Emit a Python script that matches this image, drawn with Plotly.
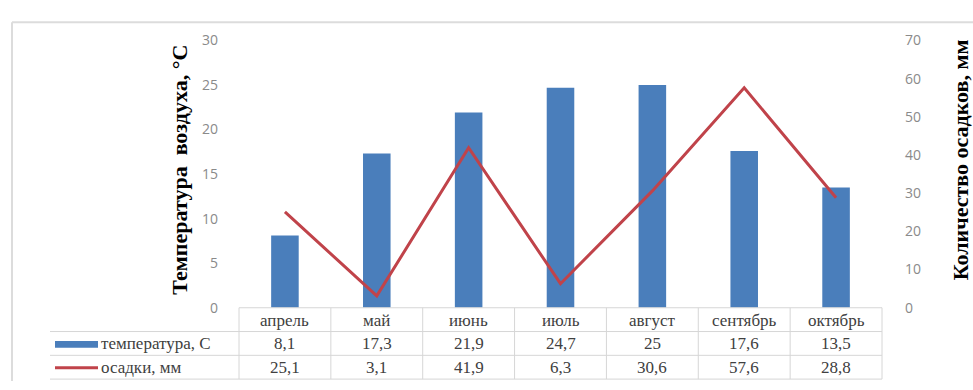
import plotly.graph_objects as go

# Monthly climate data
months = ["апрель", "май", "июнь", "июль", "август", "сентябрь", "октябрь"]
temperature = [8.1, 17.3, 21.9, 24.7, 25, 17.6, 13.5]
precipitation = [25.1, 3.1, 41.9, 6.3, 30.6, 57.6, 28.8]
temp_ticks = [0, 5, 10, 15, 20, 25, 30]
prec_ticks = [0, 10, 20, 30, 40, 50, 60, 70]

W, H = 973, 390
BAR_COLOR = "#4a7ebb"
LINE_COLOR = "#c0434a"
GRID = "#d6d6d6"
SERIF = "Liberation Serif"
SANS = "Open Sans"


def px(x):
    return x / W


def py(y):
    return 1 - y / H


x_left, x_right = 239, 882
y_top, y_bottom = 32, 313

fig = go.Figure()
fig.add_trace(go.Bar(x=months, y=temperature, marker_color=BAR_COLOR,
                     marker_line_width=0, name="температура, С", yaxis="y"))
fig.add_trace(go.Scatter(x=months, y=precipitation, mode="lines",
                         line=dict(color=LINE_COLOR, width=3),
                         name="осадки, мм", yaxis="y2"))

shapes = []
annotations = []

# outer frame
shapes.append(dict(type="line", xref="paper", yref="paper", x0=px(12), x1=1,
                   y0=py(13), y1=py(13), line=dict(color="#dcdcdc", width=2)))
shapes.append(dict(type="line", xref="paper", yref="paper", x0=px(12), x1=px(12),
                   y0=py(13), y1=0, line=dict(color="#dcdcdc", width=2)))

# data table grid
col_w = (x_right - x_left) / len(months)
row_lines = [(y_bottom, x_left), (338, 50), (363, 50), (388, 50)]
for y, x0 in row_lines:
    shapes.append(dict(type="line", xref="paper", yref="paper", x0=px(x0), x1=px(x_right),
                       y0=py(y), y1=py(y), line=dict(color=GRID, width=1)))
for i in range(len(months) + 1):
    xv = x_left + i * col_w
    shapes.append(dict(type="line", xref="paper", yref="paper", x0=px(xv), x1=px(xv),
                       y0=py(y_bottom), y1=py(388), line=dict(color=GRID, width=1)))

# table cells
def fmt(v):
    s = f"{v:g}"
    return s.replace(".", ",")

CELL_FONT = dict(family=SERIF, size=17, color="#404040")
for i, m in enumerate(months):
    cx = x_left + (i + 0.5) * col_w
    for y, txt in [(326, m), (351, fmt(temperature[i])), (376, fmt(precipitation[i]))]:
        annotations.append(dict(xref="paper", yref="paper", x=px(cx), y=py(y), text=txt,
                                showarrow=False, xanchor="center", yanchor="middle",
                                font=CELL_FONT))

# legend keys in the table
shapes.append(dict(type="rect", xref="paper", yref="paper", x0=px(55), x1=px(98),
                   y0=py(355), y1=py(348), fillcolor=BAR_COLOR, line=dict(width=0)))
shapes.append(dict(type="line", xref="paper", yref="paper", x0=px(55), x1=px(98),
                   y0=py(376), y1=py(376), line=dict(color=LINE_COLOR, width=3)))
annotations.append(dict(xref="paper", yref="paper", x=px(99), y=py(351), text="температура, С",
                        showarrow=False, xanchor="left", yanchor="middle", font=CELL_FONT))
annotations.append(dict(xref="paper", yref="paper", x=px(99), y=py(376), text="осадки, мм",
                        showarrow=False, xanchor="left", yanchor="middle", font=CELL_FONT))

# axis titles
annotations.append(dict(xref="paper", yref="paper", x=px(180), y=py(168),
                        text="<b>Температура  воздуха, °С</b>", textangle=-90,
                        showarrow=False, xanchor="center", yanchor="middle",
                        font=dict(family=SERIF, size=22, color="#000000")))
annotations.append(dict(xref="paper", yref="paper", x=px(960), y=py(158),
                        text="<b>Количество осадков, мм</b>", textangle=-90,
                        showarrow=False, xanchor="center", yanchor="middle",
                        font=dict(family=SERIF, size=22, color="#000000")))

fig.update_layout(
    width=W, height=H,
    margin=dict(l=0, r=0, t=0, b=0),
    paper_bgcolor="white", plot_bgcolor="white",
    showlegend=False,
    bargap=0.7,
    xaxis=dict(domain=[px(x_left), px(x_right)], showticklabels=False, showgrid=False,
               zeroline=False, showline=False, ticks=""),
    yaxis=dict(domain=[py(y_bottom), py(y_top)], range=[0, 30], tickvals=temp_ticks,
               showgrid=False, zeroline=False, showline=False, ticks="",
               ticklabelstandoff=20,
               tickfont=dict(family=SANS, size=14, color="#8a8a8a")),
    yaxis2=dict(overlaying="y", side="right", range=[0, 70], tickvals=prec_ticks,
                showgrid=False, zeroline=False, showline=False, ticks="",
                ticklabelstandoff=22,
                tickfont=dict(family=SANS, size=14, color="#8a8a8a")),
    shapes=shapes,
    annotations=annotations,
)

fig.write_html("out.html")
